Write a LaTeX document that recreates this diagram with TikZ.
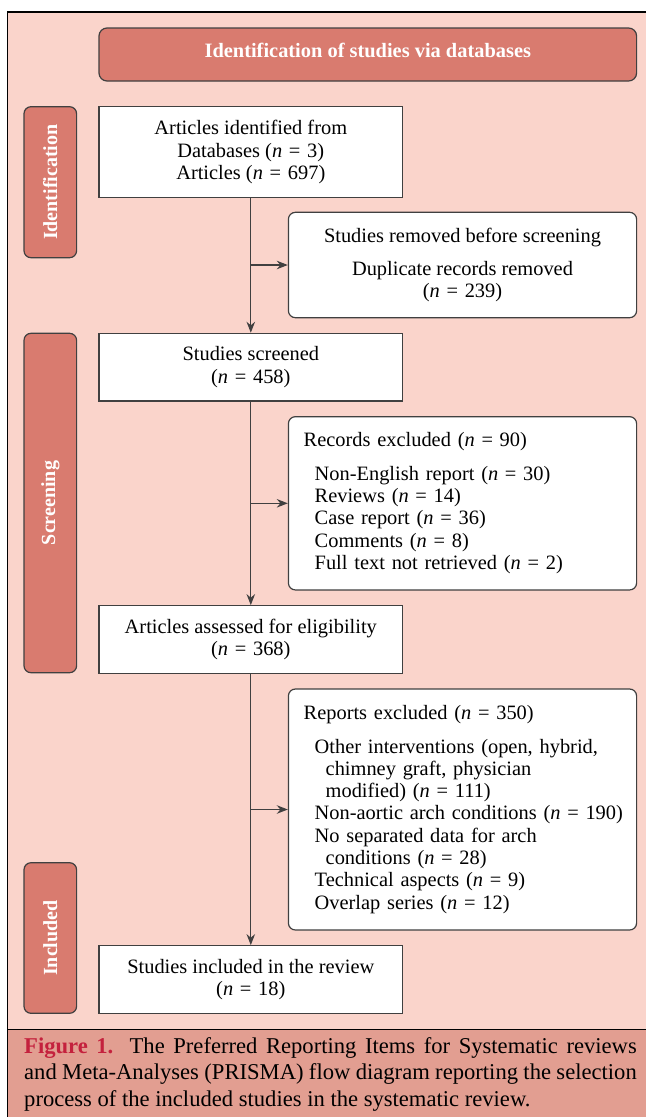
\documentclass[tikz,border=0pt]{standalone}
\usepackage{fontspec}
\setmainfont{Liberation Serif}
\usetikzlibrary{arrows.meta,calc,positioning}
\definecolor{prismabg}{HTML}{FAD4CB}
\definecolor{prismahead}{HTML}{D97B6F}
\definecolor{prismacap}{HTML}{E29E91}
\definecolor{prismared}{HTML}{C4213D}
\definecolor{prismaline}{HTML}{404040}
\newcommand\boxfont{\fontsize{20.4}{22.3}\selectfont}
\newcommand\stagefont{\fontsize{20}{22}\selectfont\bfseries}
\newcommand\capfont{\fontsize{22.6}{26.8}\selectfont}
\newcommand\ncount[1]{(\textit{n}\hspace{0.33em}=\hspace{0.33em}#1)}
\newcommand\itemind{\hspace*{11pt}}
\newcommand\wrapind{\hspace*{22pt}}
\tikzset{
    prisma diagram/.style = {x=1pt, y=-1pt,
                             >={Stealth[length=11pt, width=8.5pt]}},
    flow/.style           = {->, draw=prismaline, line width=1.3pt},
    mainbox/.style        = {draw=prismaline, line width=1.2pt, fill=white,
                             font=\boxfont, align=center,
                             minimum width=303.6pt, inner sep=0pt},
    sidebox/.style        = {draw=prismaline, line width=1.2pt, fill=white,
                             rounded corners=7pt, font=\boxfont,
                             minimum width=348.2pt, inner xsep=15.3pt,
                             inner ysep=0pt},
    listbox/.style        = {sidebox, align=left, text width=317.6pt},
    headbox/.style        = {draw=prismaline, line width=1.2pt,
                             fill=prismahead, rounded corners=8pt,
                             text=white, font=\boxfont\bfseries,
                             minimum width=537.6pt, minimum height=53pt},
    stage/.style          = {draw=prismaline, line width=1.2pt,
                             fill=prismahead, rounded corners=7pt,
                             text=white, font=\stagefont, rotate=90,
                             minimum height=52.6pt, inner sep=0pt}
}
\def\maincol{250.8}
\def\sidecol{462.5}
\def\stagecol{50.3}

\begin{document}
\begin{tikzpicture}[prisma diagram]
\useasboundingbox (0,0) rectangle (646,1117);
% Page frame, diagram panel and caption strip.
\fill[prismabg] (7.4,11.7) rectangle (646,1029.3);
\fill[prismacap] (7.4,1029.3) rectangle (646,1117);
\draw[black, line width=1.6pt] (646,11.7) -- (7.4,11.7) -- (7.4,1117);
\draw[black, line width=0.8pt] (7.4,1029.3) -- (646,1029.3);

\coordinate (origin) at (0,0);
\node[headbox] (head) at ($(origin)+(367.8,54.5)$)
  {\raisebox{7.5pt}{Identification of studies via databases}};

% Stage labels down the left side.
\node[stage, minimum width=151pt] (identstage)
  at ($(origin)+(\stagecol,182.2)$) {Identification};
\node[stage, minimum width=339.4pt] (screenstage)
  at ($(origin)+(\stagecol,503)$) {Screening};
\node[stage, minimum width=150.6pt] (inclstage)
  at ($(origin)+(\stagecol,938)$) {Included};

% Main column.
\node[mainbox, minimum height=90.6pt] (found)
  at ($(origin)+(\maincol,152)$)
  {Articles identified from\\Databases \ncount{3}\\Articles \ncount{697}};
\node[mainbox, minimum height=67.7pt] (screened)
  at ($(origin)+(\maincol,367.2)$) {Studies screened\\\ncount{458}};
\node[mainbox, minimum height=67.6pt] (assessed)
  at ($(origin)+(\maincol,639.5)$)
  {Articles assessed for eligibility\\\ncount{368}};
\node[mainbox, minimum height=67.6pt] (included)
  at ($(origin)+(\maincol,979.5)$)
  {Studies included in the review\\\ncount{18}};

% Exclusions on the right.
\node[sidebox, align=center, minimum height=105.4pt] (duplicates)
  at ($(origin)+(\sidecol,265)$)
  {Studies removed before screening\\[11pt]Duplicate records removed\\\ncount{239}};
\node[listbox, minimum height=173.3pt] (records)
  at ($(origin)+(\sidecol,503.3)$)
  {Records excluded \ncount{90}\\[11pt]
   \itemind Non-English report \ncount{30}\\
   \itemind Reviews \ncount{14}\\
   \itemind Case report \ncount{36}\\
   \itemind Comments \ncount{8}\\
   \itemind Full text not retrieved \ncount{2}};
\node[listbox, minimum height=241pt] (reports)
  at ($(origin)+(\sidecol,809.5)$)
  {Reports excluded \ncount{350}\\[11pt]
   \itemind Other interventions (open, hybrid,\\
   \wrapind chimney graft, physician\\
   \wrapind modified) \ncount{111}\\
   \itemind\mbox{Non-aortic arch conditions \ncount{190}}\\
   \itemind No separated data for arch\\
   \wrapind conditions \ncount{28}\\
   \itemind Technical aspects \ncount{9}\\
   \itemind Overlap series \ncount{12}};

\draw[flow] (found) -- (screened);
\draw[flow] (screened) -- (assessed);
\draw[flow] (assessed) -- (included);
\draw[flow] (found.south |- duplicates.west) -- (duplicates.west);
\draw[flow] (found.south |- records.west) -- (records.west);
\draw[flow] (found.south |- reports.west) -- (reports.west);

% Caption.
\node[anchor=north west, inner sep=0pt, text width=612.6pt,
      align=justify, font=\capfont] (caption)
  at ($(origin)+(24,1037)$)
  {\textcolor{prismared}{\textbf{Figure 1.}} The Preferred Reporting Items
   for Systematic reviews\linebreak and Meta-Analyses (PRISMA) flow diagram
   reporting the selection\linebreak process of the included studies in the
   systematic review.};

\end{tikzpicture}
\end{document}
